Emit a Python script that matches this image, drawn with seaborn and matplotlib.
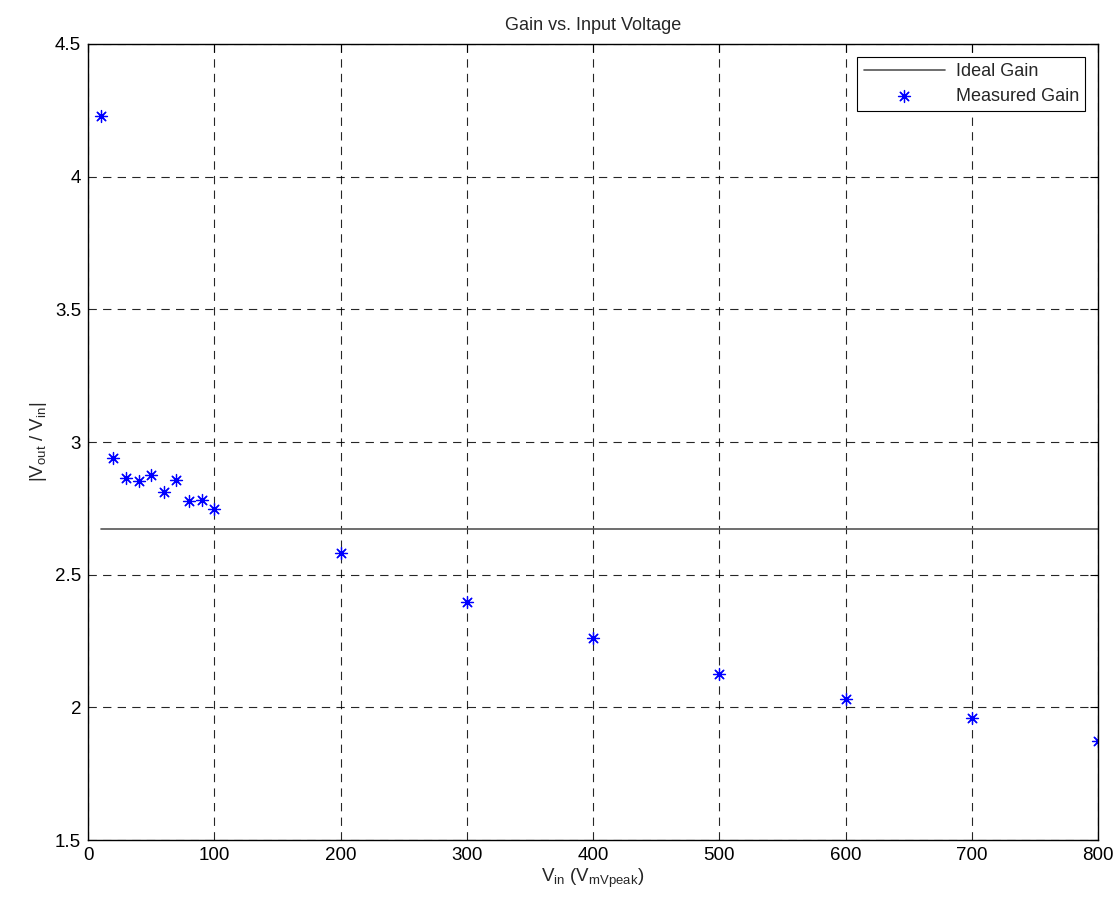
import matplotlib
matplotlib.use("Agg")
import matplotlib.pyplot as plt
import seaborn as sns
import pandas as pd

vin = [10, 20, 30, 40, 50, 60, 70, 80, 90, 100, 200, 300, 400, 500, 600, 700, 800]
gain = [4.228, 2.94, 2.864, 2.852, 2.877, 2.812, 2.858, 2.776, 2.782, 2.749,
        2.582, 2.396, 2.261, 2.127, 2.030, 1.959, 1.872]
ideal_x = [10, 800]
ideal_gain = [2.671, 2.671]

sns.set_theme(style="white")
plt.rcParams["font.family"] = ["Liberation Sans", "DejaVu Sans"]
plt.rcParams["mathtext.fontset"] = "custom"
plt.rcParams["mathtext.rm"] = "Liberation Sans"
plt.rcParams["mathtext.it"] = "Liberation Sans"
plt.rcParams["lines.scale_dashes"] = False

df = pd.DataFrame({"vin": vin, "gain": gain})
ideal = pd.DataFrame({"vin": ideal_x, "gain": ideal_gain})

fig = plt.figure(figsize=(11.2, 9.05), dpi=100)
ax = fig.add_axes([88 / 1120, 65 / 905, 1010 / 1120, 796 / 905])

sns.lineplot(data=ideal, x="vin", y="gain", ax=ax, color="#555555", linewidth=1.2,
             label="Ideal Gain")
sns.scatterplot(data=df, x="vin", y="gain", ax=ax, marker=(8, 2, 0), s=75,
                color="blue", edgecolor="blue", linewidth=0.9, label="Measured Gain")

ax.set_xlim(0, 800)
ax.set_ylim(1.5, 4.5)
ax.set_xticks(range(0, 801, 100))
ax.set_yticks([1.5, 2, 2.5, 3, 3.5, 4, 4.5])
ax.set_yticklabels(["1.5", "2", "2.5", "3", "3.5", "4", "4.5"])
ax.grid(True, color="black", linestyle=(0, (6, 4.5)), linewidth=0.8, alpha=0.85)
ax.tick_params(direction="in", length=6, width=0.8, top=True, right=True,
               labelsize=13.5, colors="black", pad=5)
for s in ax.spines.values():
    s.set_color("black")
    s.set_linewidth(1.0)

ax.set_title("Gain vs. Input Voltage", fontsize=13, pad=10)
ax.set_xlabel(r"V$_{\mathrm{in}}$ (V$_{\mathrm{mVpeak}}$)", fontsize=13.5, labelpad=2)
ax.set_ylabel(r"|V$_{\mathrm{out}}$ / V$_{\mathrm{in}}$|", fontsize=13.5, labelpad=4)

leg = ax.legend(loc="upper right", fontsize=13, frameon=True, fancybox=False,
                edgecolor="black", framealpha=1, borderaxespad=0.7,
                handlelength=4.5, handletextpad=0.6, labelspacing=0.45,
                borderpad=0.35)
leg.get_frame().set_linewidth(0.8)

fig.savefig("out.png", dpi=100)
